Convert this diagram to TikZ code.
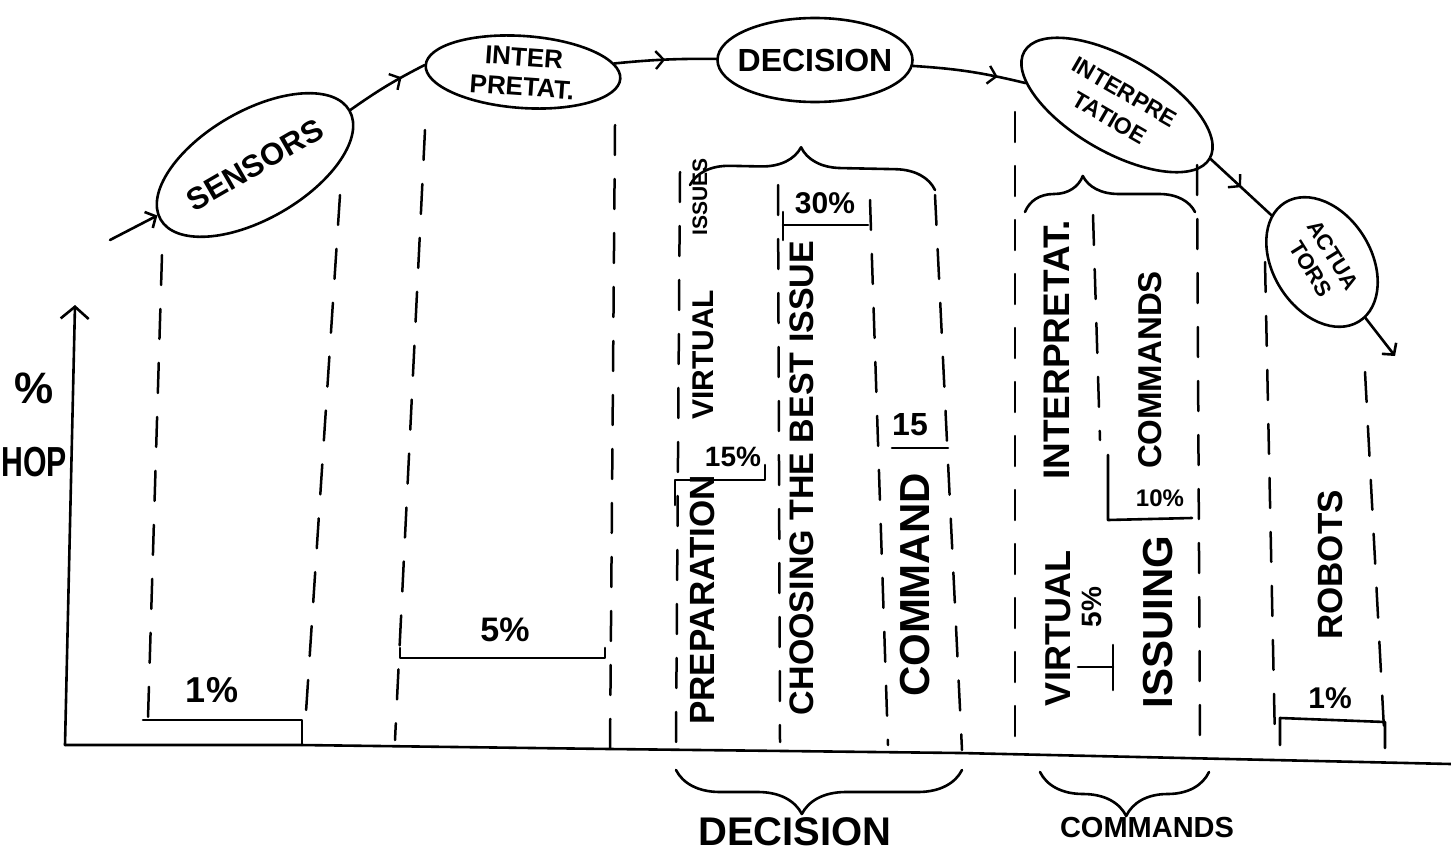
\documentclass[tikz,border=0pt]{standalone}
\usepackage{fontspec}
\setmainfont{Liberation Sans}
\usetikzlibrary{shapes.geometric,arrows.meta,decorations.markings,decorations.pathreplacing}
\begin{document}
\begin{tikzpicture}[x=1pt,y=-1pt,
  ink/.style={line width=2.6pt, line cap=round, line join=round},
  guide/.style={line width=2.5pt, line cap=round, dash pattern=on 30pt off 24pt},
  bubble/.style={ellipse, draw, line width=2.6pt, inner sep=0pt},
  txt/.style={font=\bfseries\fontsize{#1}{#1}\selectfont, inner sep=0pt, align=center},
  vtxt/.style={txt=#1, rotate=90},
  tip/.style={-{Straight Barb[length=8pt,width=18pt]}},
  flow/.style={ink, postaction={decorate}, decoration={markings, mark=at position #1 with {\arrow[line width=2.4pt]{Straight Barb[length=8pt,width=18pt]}}}},
]
\useasboundingbox (0,0) rectangle (1451,867);

% ---- process bubbles ----
\node[bubble, rotate=30, minimum width=218pt, minimum height=108pt] (sens) at (255,165) {};
\node[txt=31, rotate=30] (sensT) at (sens.center) {SENSORS};
\node[bubble, rotate=-4, minimum width=195pt, minimum height=72pt] (interp) at (523,72) {};
\node[txt=26, rotate=-4] (interpT) at (interp.center) {INTER\\[4pt]PRETAT.};
\node[bubble, minimum width=195pt, minimum height=84pt] (dec) at (815,60) {};
\node[txt=32] (decT) at (dec.center) {DECISION};
\node[bubble, rotate=-30, minimum width=214pt, minimum height=94pt] (interp2) at (1117,105) {};
\node[txt=23, rotate=-30] (interp2T) at (interp2.center) {INTERPRE\\[7pt]TATIOE};
\node[bubble, rotate=-58, minimum width=140pt, minimum height=98pt] (act) at (1322,262) {};
\node[txt=22, rotate=-58] (actT) at (act.center) {ACTUA\\[4pt]TORS};

% ---- flow connectors ----
\coordinate (start) at (110,240);
\coordinate (finish) at (1395,356);
\draw[ink, tip] (start) -- (sens);
\draw[flow=0.7] (sens.east) to[bend left=4] (interp.west);
\draw[flow=0.5] (interp) to[bend left=3] (dec);
\draw[flow=0.75] (dec) to[bend left=5] (interp2);
\draw[flow=0.5] (interp2.east) -- (act);
\draw[ink, tip] (act) -- (finish);

% ---- axes ----
\coordinate (origin) at (65,745);
\coordinate (ytop) at (75,305);
\draw[ink, -{Straight Barb[length=12pt,width=28pt]}] (origin) -- (ytop);
\draw[ink] (origin) -- (300,745) -- (610,749) -- (960,753) -- (1451,764);
\node[txt=44] (pct) at (34,388) {\%};
\node[txt=42] (hop) at (34,462) {\scalebox{0.72}[1]{HOP}};

% ---- dashed column guides ----
\draw[guide] (162,255) -- (148,718);
\draw[guide] (340,195) -- (306,712);
\draw[guide] (425,130) -- (395,740);
\draw[guide] (615,125) -- (610,750);
\draw[guide] (680,172) -- (676,742);
\draw[guide] (778,185) -- (780,742);
\draw[guide] (870,200) -- (888,745);
\draw[guide] (935,195) -- (962,750);
\draw[guide] (1015,112) -- (1015,745);
\draw[guide] (1093,215) -- (1100,440);
\draw[guide] (1197,165) -- (1200,748);
\draw[guide] (1265,262) -- (1275,742);
\draw[guide] (1365,372) -- (1385,748);

% ---- level bars ----
\draw[ink] (143,720) -- (302,720) -- (302,745);
\draw[ink] (400,648) -- (400,658) -- (605,658) -- (605,648);
\draw[ink] (783,212) -- (783,240);
\draw[ink] (783,225) -- (868,225);
\draw[ink] (675,505) -- (675,480) -- (765,480) -- (765,465);
\draw[ink] (892,448) -- (948,448);
\draw[ink] (1078,667) -- (1113,667);
\draw[ink] (1113,645) -- (1113,690);
\draw[ink] (1108,455) -- (1108,520) -- (1192,518);
\draw[ink] (1280,745) -- (1280,718) -- (1385,722) -- (1385,748);

% ---- braces ----
\draw[ink, decorate, decoration={brace, amplitude=40pt, aspect=0.45}] (690,185) -- (935,190);
\draw[ink, decorate, decoration={brace, amplitude=36pt, aspect=0.34}] (1025,212) -- (1195,212);
\draw[ink, decorate, decoration={brace, mirror, amplitude=44pt, aspect=0.44}] (676,770) -- (962,770);
\draw[ink, decorate, decoration={brace, mirror, amplitude=44pt, aspect=0.51}] (1040,772) -- (1209,772);

% ---- column labels ----
\node[vtxt=35] (prep) at (702,600) {PREPARATION};
\node[vtxt=30] (virt) at (703,355) {VIRTUAL};
\node[vtxt=21] (iss) at (700,197) {ISSUES};
\node[vtxt=34] (choose) at (802,478) {CHOOSING THE BEST ISSUE};
\node[vtxt=42] (cmd) at (915,585) {COMMAND};
\node[vtxt=37] (intp) at (1057,350) {INTERPRETAT.};
\node[vtxt=36] (virt2) at (1058,628) {VIRTUAL};
\node[vtxt=42] (issuing) at (1158,622) {ISSUING};
\node[vtxt=33] (cmds) at (1150,370) {COMMANDS};
\node[vtxt=35] (robots) at (1330,565) {ROBOTS};

% ---- percentages ----
\node[txt=36] (p1) at (212,690) {1\%};
\node[txt=34] (p5) at (505,630) {5\%};
\node[txt=30] (p30) at (825,203) {30\%};
\node[txt=28] (p15a) at (733,457) {15\%};
\node[txt=32] (p15b) at (910,425) {15};
\node[vtxt=28] (p5b) at (1092,607) {5\%};
\node[txt=24] (p10) at (1160,498) {10\%};
\node[txt=30] (p1b) at (1330,698) {1\%};

% ---- bottom group labels ----
\node[txt=40] (gdec) at (795,832) {DECISION};
\node[txt=29] (gcmd) at (1147,828) {COMMANDS};
\end{tikzpicture}
\end{document}
